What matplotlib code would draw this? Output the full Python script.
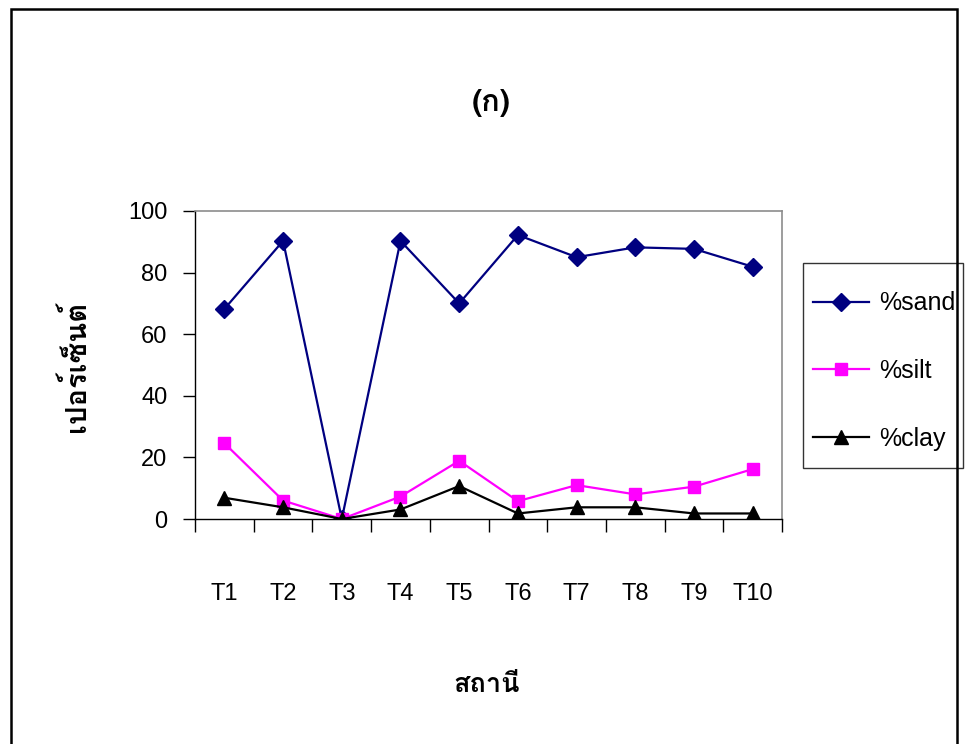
import matplotlib
matplotlib.use("Agg")
import matplotlib.pyplot as plt
from matplotlib.patches import Rectangle

# particle size fractions at each station
stations = ["T1", "T2", "T3", "T4", "T5", "T6", "T7", "T8", "T9", "T10"]
sand = [68.2, 90.3, 0.0, 90.3, 70.0, 92.2, 85.0, 88.2, 87.7, 81.9]
silt = [24.6, 6.0, 0.0, 7.3, 18.9, 5.8, 11.0, 8.0, 10.5, 16.2]
clay = [6.9, 3.8, 0.0, 3.1, 10.7, 1.8, 3.8, 3.8, 1.8, 1.8]

plt.rcParams["font.family"] = ["Liberation Sans", "Loma", "DejaVu Sans"]
thai = ["Loma", "Liberation Sans", "DejaVu Sans"]

fig = plt.figure(figsize=(9.66, 7.44), dpi=100)
ax = fig.add_axes([0.2019, 0.3024, 0.6077, 0.4140])

x = list(range(len(stations)))
ax.plot(x, sand, color="#000080", lw=1.6, marker="D", ms=9.5, label="%sand")
ax.plot(x, silt, color="#FF00FF", lw=1.6, marker="s", ms=9, label="%silt")
ax.plot(x, clay, color="black", lw=1.6, marker="^", ms=9.5, label="%clay")

ax.set_xlim(-0.5, len(stations) - 0.5)
ax.set_ylim(0, 100)
ax.set_yticks([0, 20, 40, 60, 80, 100])
ax.set_xticks(x)
ax.set_xticklabels(stations)
# category separators as ticks, labels sit centred underneath
ax.set_xticks([i - 0.5 for i in range(len(stations) + 1)], minor=True)
ax.tick_params(axis="x", which="major", length=0, pad=46, labelsize=17)
ax.tick_params(axis="x", which="minor", length=9, width=1, direction="out")
ax.tick_params(axis="y", length=9, width=1, direction="out", pad=11, labelsize=17)

for side in ["top", "right"]:
    ax.spines[side].set_color("#8c8c8c")
    ax.spines[side].set_linewidth(1.2)
for side in ["left", "bottom"]:
    ax.spines[side].set_color("black")
    ax.spines[side].set_linewidth(1.0)

# legend entries without their own frame; the box is drawn separately
leg = ax.legend(loc="center left", bbox_to_anchor=(805 / 966, 1 - 371 / 744),
                bbox_transform=fig.transFigure, frameon=False,
                fontsize=18, handlelength=2.25, handletextpad=0.4,
                labelspacing=1.75, borderpad=0.3, borderaxespad=0)
fig.patches.append(Rectangle((803 / 966, 1 - 468 / 744), 160 / 966, 205 / 744,
                             transform=fig.transFigure, fill=False,
                             edgecolor="#333333", linewidth=1.0))

fig.text(0.509, 0.8616, "(ก)", ha="center", va="center", fontsize=22,
         fontweight="bold", family=thai)
fig.text(0.078, 1 - 366 / 744, "เปอร์เซ็นต์", ha="center", va="center", rotation=90,
         fontsize=21, fontweight="bold", family=thai)
fig.text(0.504, 1 - 685 / 744, "สถานี", ha="center", va="center", fontsize=19.5,
         fontweight="bold", family=thai)

# page frame, open at the bottom
fig.patches.append(Rectangle((11 / 966, -0.1), 946 / 966, 1.1 - 9 / 744,
                             transform=fig.transFigure, fill=False,
                             edgecolor="black", linewidth=1.8))

fig.savefig("out.png", dpi=100)
